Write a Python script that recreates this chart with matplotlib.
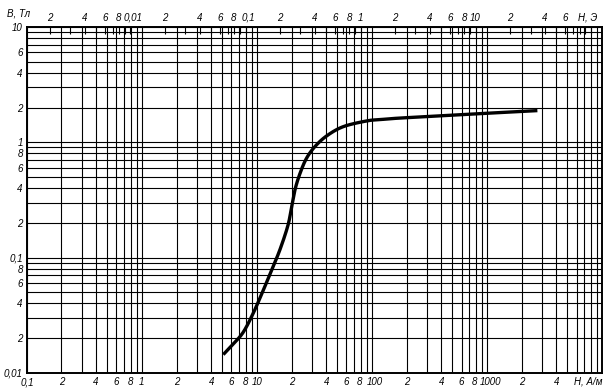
#!/usr/bin/env python3
"""
Magnetisation curve B(H) on a log-log grid, with a second H scale in oersted.
"""

import numpy as np
import matplotlib
matplotlib.use('Agg')
import matplotlib.pyplot as plt
from matplotlib.transforms import ScaledTranslation

# Data
h_am = [5.1, 6.2, 7.6, 9.3, 11.35, 13.4, 15.85, 18.6, 20.1, 21.6,
        23.9, 27.0, 31.9, 40.4, 56.3, 90, 117, 175, 390, 870, 2740]
b_t = [0.0144, 0.0177, 0.0225, 0.0330, 0.0520, 0.0775, 0.117, 0.190,
       0.280, 0.400, 0.550, 0.727, 0.916, 1.135, 1.365, 1.53, 1.57, 1.62,
       1.69, 1.77, 1.88]

# Bottom H scale, A/m
x_ticks = [0.1, 0.2, 0.4, 0.6, 0.8, 1, 2, 4, 6, 8, 10, 20, 40, 60, 80,
           100, 200, 400, 600, 800, 1000, 2000, 4000]
x_labels = ['0,1', '2', '4', '6', '8', '1', '2', '4', '6', '8', '10',
            '2', '4', '6', '8', '100', '2', '4', '6', '8', '1000', '2', '4']

# Left B scale, T
y_ticks = [10, 6, 4, 2, 1, 0.8, 0.6, 0.4, 0.2, 0.1, 0.08, 0.06, 0.04,
           0.02, 0.01]
y_labels = ['10', '6', '4', '2', '1', '8', '6', '4', '2', '0,1', '8', '6',
            '4', '2', '0,01']

# Top H scale, oersted
oe_ticks = [0.002, 0.004, 0.006, 0.008, 0.01, 0.02, 0.04, 0.06, 0.08, 0.1,
            0.2, 0.4, 0.6, 0.8, 1, 2, 4, 6, 8, 10, 20, 40, 60]
oe_labels = ['2', '4', '6', '8', '0,01', '2', '4', '6', '8', '0,1', '2',
             '4', '6', '8', '1', '2', '4', '6', '8', '10', '2', '4', '6']

AM_PER_OE = 79.577

FONT = ['Liberation Sans', 'DejaVu Sans']
lab = dict(fontsize=7, fontstyle='italic', color='black', family=FONT)


def decade_values(lo, hi):
    vals = [m * 10.0 ** e for e in range(-4, 6) for m in range(1, 10)]
    return [v for v in vals if lo * 0.999 <= v <= hi * 1.001]


def catmull_rom(px, py, n=30):
    P = np.column_stack([px, py]).astype(float)
    P = np.vstack([2 * P[0] - P[1], P, 2 * P[-1] - P[-2]])
    out = []
    for i in range(1, len(P) - 2):
        p0, p1, p2, p3 = P[i - 1], P[i], P[i + 1], P[i + 2]
        for t in np.linspace(0, 1, n, endpoint=False):
            t2, t3 = t * t, t * t * t
            out.append(0.5 * (2 * p1 + (-p0 + p2) * t
                              + (2 * p0 - 5 * p1 + 4 * p2 - p3) * t2
                              + (-p0 + 3 * p1 - 3 * p2 + p3) * t3))
    out.append(P[-2])
    out = np.array(out)
    return out[:, 0], out[:, 1]


def nudge(labels, fig):
    # push crowded labels apart a little: "8" left, the long one right
    for i, t in enumerate(labels):
        txt = t.get_text()
        if len(txt) >= 3 and i > 0:
            t.set_transform(t.get_transform()
                            + ScaledTranslation(3 / 100, 0, fig.dpi_scale_trans))
            prev = labels[i - 1]
            prev.set_transform(prev.get_transform()
                               + ScaledTranslation(-1 / 100, 0, fig.dpi_scale_trans))


fig = plt.figure(figsize=(6.1, 3.9), dpi=100)
ax = fig.add_axes([0.044, 0.044, 0.943, 0.887])
ax.set_xscale('log')
ax.set_yscale('log')
ax.set_xlim(0.1, 1e4)
ax.set_ylim(0.01, 10)

# grid at every 1..9 of each decade
ax.set_xticks(decade_values(0.1, 1e4), minor=True)
ax.set_yticks(decade_values(0.01, 10), minor=True)
ax.set_xticklabels([], minor=True)
ax.set_yticklabels([], minor=True)
ax.grid(True, which='both', color='black', linewidth=0.8)
for s in ax.spines.values():
    s.set_linewidth(1.4)

ax.set_xticks(x_ticks)
ax.set_xticklabels(x_labels, **lab)
ax.set_yticks(y_ticks)
ax.set_yticklabels(y_labels, **lab)
ax.tick_params(axis='both', which='both', length=0, pad=3)
nudge(ax.get_xticklabels(), fig)

# smooth the curve in log space
sx, sy = catmull_rom(np.log10(h_am), np.log10(b_t))
ax.plot(10 ** sx, 10 ** sy, color='black', linewidth=2.4,
        solid_capstyle='butt')

# oersted scale on top
top = ax.twiny()
top.set_xscale('log')
top.set_xlim(0.1 / AM_PER_OE, 1e4 / AM_PER_OE)
top.set_xticks(decade_values(0.1 / AM_PER_OE, 1e4 / AM_PER_OE), minor=True)
top.set_xticks(oe_ticks)
top.set_xticklabels(oe_labels, **lab)
top.set_xticklabels([], minor=True)
top.tick_params(axis='x', which='both', direction='in', length=5,
                width=0.8, pad=3)
for s in top.spines.values():
    s.set_visible(False)
nudge(top.get_xticklabels(), fig)

# axis titles
fig.text(0.012, 0.965, 'B, Тл', ha='left', va='center', **lab)
ax.text(0.975, -0.012, 'H, А/м', transform=ax.transAxes, ha='center',
        va='top', **lab)
ax.text(0.975, 1.012, 'H, Э', transform=ax.transAxes, ha='center',
        va='bottom', **lab)

fig.savefig('out.png', dpi=100)
